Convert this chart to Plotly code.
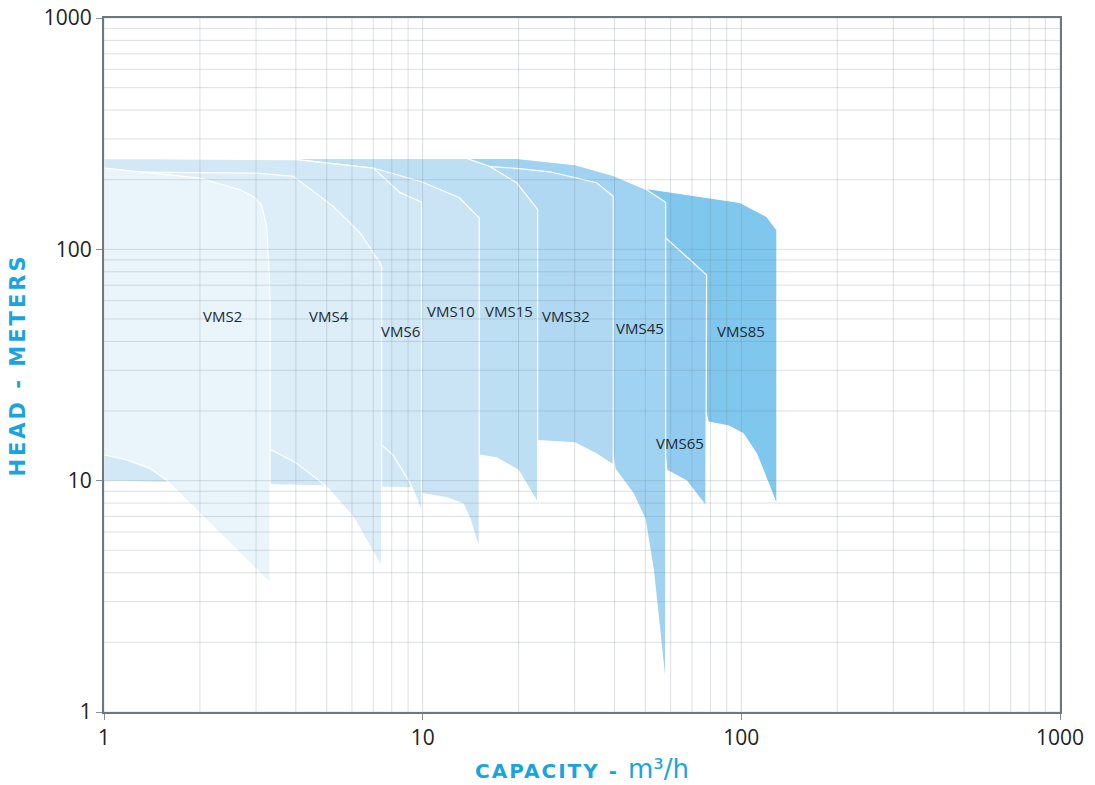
import numpy as np
import plotly.graph_objects as go

# ---- data: pump performance envelopes (capacity m3/h, head m) ----
pumps = ["VMS85", "VMS65", "VMS45", "VMS32", "VMS15", "VMS10", "VMS6", "VMS4", "VMS2"]

# upper curve (max head) points, left -> right
top_q = {
    "VMS2":  [1, 2.0, 2.67, 2.94, 3.12, 3.24, 3.30, 3.32],
    "VMS4":  [1, 3.01, 3.93, 5.25, 6.36, 7.35, 7.44],
    "VMS6":  [1, 4.02, 7.0, 8.49, 9.93],
    "VMS10": [1, 4.02, 7.0, 8.49, 9.93, 13.03, 15.05],
    "VMS15": [1, 13.74, 16.26, 19.72, 22.95],
    "VMS32": [1, 16.26, 19.72, 25.08, 35.15, 39.63],
    "VMS45": [1, 19.72, 30.06, 39.63, 50.45, 57.88],
    "VMS65": [1, 58.0, 69.0, 77.8],
    "VMS85": [1, 50.93, 99.0, 120.1, 129.3],
}
top_h = {
    "VMS2":  [224.6, 203.3, 180.9, 169.2, 155.8, 125.5, 79.1, 60],
    "VMS4":  [216, 213.6, 207, 153, 117.7, 87.4, 84],
    "VMS6":  [247.4, 244, 224.6, 175.8, 160],
    "VMS10": [247.4, 244, 224.6, 208.6, 195.9, 167, 136.9],
    "VMS15": [247.4, 247.4, 228, 194, 148.8],
    "VMS32": [228, 228, 223.9, 216.4, 194, 169.7],
    "VMS45": [247.4, 247.4, 232.1, 208.6, 180.9, 159.7],
    "VMS65": [115, 111.8, 90.1, 77.5],
    "VMS85": [185, 182.7, 159.4, 138.7, 121.4],
}
# lower curve (min head) points, right -> left
bot_q = {
    "VMS2":  [3.32, 2.55, 2.0, 1.57, 1.394, 1.18, 1],
    "VMS4":  [7.44, 6.05, 4.99, 4.02, 3.36, 1],
    "VMS6":  [9.93, 9.3, 3.24, 1],
    "VMS10": [15.05, 14.07, 13.41, 12.03, 10.0, 9.5, 1],
    "VMS15": [22.95, 19.95, 17.07, 15.05, 1],
    "VMS32": [39.63, 35.15, 30.06, 23.05, 1],
    "VMS45": [57.88, 55.54, 52.9, 49.84, 45.8, 40.12, 39.0, 1],
    "VMS65": [77.4, 72.4, 67.35, 58.3, 56.0, 1],
    "VMS85": [129.3, 121.5, 111.7, 101.4, 90.97, 78.7, 76.0, 1],
}
bot_h = {
    "VMS2":  [3.61, 5.17, 7.23, 10.06, 11.3, 12.3, 12.91],
    "VMS4":  [4.23, 6.97, 9.45, 11.9, 13.56, 15],
    "VMS6":  [7.24, 9.3, 9.6, 9.96],
    "VMS10": [5.08, 6.85, 7.92, 8.41, 8.785, 9.5, 12],
    "VMS15": [8.04, 11.11, 12.54, 12.91, 13],
    "VMS32": [11.68, 13.04, 14.56, 14.89, 15],
    "VMS45": [1.29, 2.28, 4.16, 6.85, 8.785, 11.27, 16, 16],
    "VMS65": [7.76, 8.785, 9.96, 11.11, 22, 22],
    "VMS85": [7.84, 9.76, 13.04, 15.97, 17.28, 17.93, 22, 22],
}
# VMS6 lower performance curve (drawn as a line inside the band)
vms6_curve_q = [7.44, 8.07, 9.125, 9.93]
vms6_curve_h = [14.26, 12.91, 9.76, 7.24]

colors = {
    "VMS2": "#EAF4FB", "VMS4": "#DDEEF8", "VMS6": "#D3E8F6", "VMS10": "#CBE4F5",
    "VMS15": "#BDDFF4", "VMS32": "#B0D8F3", "VMS45": "#A0D3F1", "VMS65": "#91CCF0",
    "VMS85": "#80C7EE",
}
# label positions (capacity, head)
label_q = {"VMS2": 2.346, "VMS4": 5.08, "VMS6": 8.55, "VMS10": 12.27, "VMS15": 18.66,
           "VMS32": 28.16, "VMS45": 48.07, "VMS65": 64.2, "VMS85": 99.7}
label_h = {"VMS2": 51.6, "VMS4": 51.6, "VMS6": 44.4, "VMS10": 54.2, "VMS15": 54.2,
           "VMS32": 51.6, "VMS45": 45.7, "VMS65": 14.55, "VMS85": 44.4}

decades = [1, 10, 100]
multipliers = [1, 2, 3, 4, 5, 6, 7, 8, 9]
tick_vals = [1, 10, 100, 1000]

fig = go.Figure()

for p in pumps:
    xs = top_q[p] + bot_q[p] + [top_q[p][0]]
    ys = top_h[p] + bot_h[p] + [top_h[p][0]]
    fig.add_trace(go.Scatter(
        x=xs, y=ys, mode="lines", fill="toself", fillcolor=colors[p],
        line=dict(color="white", width=1.2), hoverinfo="skip", showlegend=False,
    ))
    if p == "VMS6":
        fig.add_trace(go.Scatter(
            x=vms6_curve_q, y=vms6_curve_h, mode="lines",
            line=dict(color="white", width=1.2), hoverinfo="skip", showlegend=False,
        ))

# grid lines drawn above the filled areas
grid_vals = [d * m for d in decades for m in multipliers] + [1000]
gx, gy = [], []
for v in grid_vals:
    gx += [v, v, None]
    gy += [1, 1000, None]
for v in grid_vals:
    gx += [1, 1000, None]
    gy += [v, v, None]
fig.add_trace(go.Scatter(
    x=gx, y=gy, mode="lines", line=dict(color="rgba(110,125,140,0.24)", width=1),
    hoverinfo="skip", showlegend=False,
))

for p in pumps:
    fig.add_annotation(
        x=np.log10(label_q[p]), y=np.log10(label_h[p]), text=p, showarrow=False,
        font=dict(family="Open Sans", size=15, color="#1E2A33"),
    )

axis_common = dict(
    type="log", showgrid=False, zeroline=False, automargin=False,
    showline=True, linecolor="#6E767E", linewidth=2, mirror=True,
    ticks="outside", ticklen=6, tickcolor="#8A9096", tickwidth=1,
    tickvals=tick_vals, ticktext=[str(v) for v in tick_vals],
    tickfont=dict(family="Open Sans", size=21, color="#222222"),
)

fig.update_xaxes(
    range=[0, 3], **axis_common,
    title=dict(
        text="<span style='letter-spacing:2px'><b>CAPACITY - </b></span>"
             "<span style='font-size:26px'>m³/h</span>",
        font=dict(family="DejaVu Sans", size=20, color="#1BA3E0"), standoff=14,
    ),
)
fig.update_yaxes(
    range=[0, 3], **axis_common,
    title=dict(
        text="<span style='letter-spacing:3px'><b>HEAD - METERS</b></span>",
        font=dict(family="DejaVu Sans", size=21, color="#1BA3E0"), standoff=12,
    ),
)

fig.update_layout(
    width=1095, height=785,
    margin=dict(l=104, r=35, t=18, b=73),
    paper_bgcolor="white", plot_bgcolor="white",
)

fig.write_html(
    "out.html",
    config={"displayModeBar": False},
    post_script="document.body.style.margin='0';document.body.style.overflow='hidden';",
)
